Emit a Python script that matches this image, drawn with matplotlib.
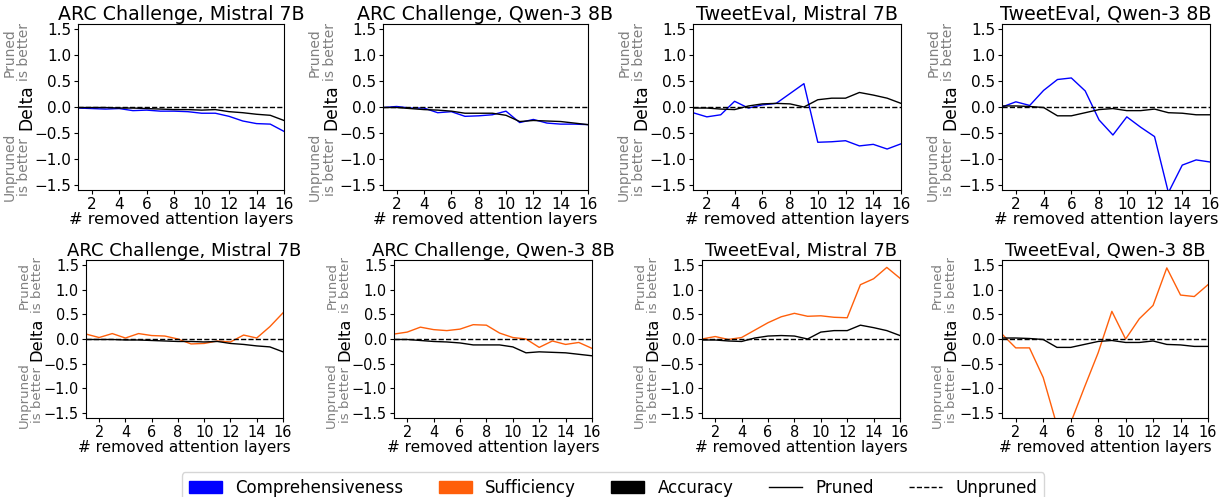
import matplotlib
matplotlib.use("Agg")
import matplotlib.pyplot as plt
from matplotlib.patches import Patch
from matplotlib.lines import Line2D

layers = list(range(1, 17))
xticks = [2, 4, 6, 8, 10, 12, 14, 16]

titles = ["ARC Challenge, Mistral 7B", "ARC Challenge, Qwen-3 8B",
          "TweetEval, Mistral 7B", "TweetEval, Qwen-3 8B"]

# accuracy delta (pruned - unpruned), same for both rows
acc_arc_mistral = [-0.01, -0.01, -0.01, -0.02, -0.02, -0.03, -0.04, -0.05,
                   -0.05, -0.06, -0.05, -0.09, -0.11, -0.14, -0.16, -0.26]
acc_arc_qwen = [-0.01, -0.01, -0.03, -0.05, -0.06, -0.08, -0.12, -0.12,
                -0.12, -0.16, -0.28, -0.26, -0.27, -0.28, -0.31, -0.34]
acc_tweet_mistral = [-0.02, -0.02, -0.04, -0.05, 0.02, 0.06, 0.07, 0.06,
                     0.0, 0.14, 0.17, 0.17, 0.28, 0.23, 0.17, 0.07]
acc_tweet_qwen = [0.02, 0.02, 0.01, -0.01, -0.17, -0.17, -0.11, -0.05,
                  -0.03, -0.07, -0.07, -0.04, -0.11, -0.12, -0.15, -0.15]

# comprehensiveness delta (top row)
comp_arc_mistral = [-0.02, -0.03, -0.04, -0.03, -0.07, -0.06, -0.08, -0.08,
                    -0.09, -0.12, -0.12, -0.18, -0.27, -0.32, -0.33, -0.47]
comp_arc_qwen = [-0.01, 0.01, -0.02, -0.02, -0.11, -0.09, -0.18, -0.17,
                 -0.15, -0.08, -0.30, -0.24, -0.31, -0.33, -0.33, -0.34]
comp_tweet_mistral = [-0.11, -0.19, -0.15, 0.11, -0.02, 0.04, 0.07, 0.26,
                      0.45, -0.68, -0.67, -0.65, -0.75, -0.72, -0.81, -0.71]
comp_tweet_qwen = [0.0, 0.10, 0.03, 0.32, 0.53, 0.56, 0.31, -0.25,
                   -0.54, -0.19, -0.39, -0.57, -1.65, -1.12, -1.02, -1.06]

# sufficiency delta (bottom row)
suff_arc_mistral = [0.10, 0.03, 0.11, 0.02, 0.11, 0.07, 0.06, 0.0,
                    -0.10, -0.09, -0.04, -0.06, 0.08, 0.02, 0.25, 0.53]
suff_arc_qwen = [0.10, 0.14, 0.24, 0.19, 0.17, 0.20, 0.29, 0.28,
                 0.12, 0.03, 0.0, -0.17, -0.04, -0.11, -0.07, -0.19]
suff_tweet_mistral = [0.0, 0.05, -0.01, 0.03, 0.18, 0.33, 0.45, 0.52,
                      0.46, 0.47, 0.44, 0.43, 1.10, 1.22, 1.45, 1.23]
suff_tweet_qwen = [0.10, -0.18, -0.18, -0.78, -1.75, -1.70, -0.98, -0.28,
                   0.56, 0.0, 0.41, 0.68, 1.44, 0.89, 0.86, 1.10]

acc = [acc_arc_mistral, acc_arc_qwen, acc_tweet_mistral, acc_tweet_qwen]
comp = [comp_arc_mistral, comp_arc_qwen, comp_tweet_mistral, comp_tweet_qwen]
suff = [suff_arc_mistral, suff_arc_qwen, suff_tweet_mistral, suff_tweet_qwen]

BLUE = "#0000ff"
ORANGE = "#ff5f0a"

W, H = 1226, 497
fig = plt.figure(figsize=(W / 100, H / 100), dpi=100)

# axes boxes in pixels: (left, top, right, bottom)
boxes_top = [(78, 24, 284, 190), (383, 24, 588, 190),
             (693, 24, 901, 190), (1002, 24, 1210, 190)]
boxes_bot = [(86, 260, 283, 418), (394, 260, 592, 418),
             (702, 260, 900, 418), (1002, 260, 1208, 418)]


def make_ax(box):
    l, t, r, b = box
    return fig.add_axes([l / W, 1 - b / H, (r - l) / W, (b - t) / H])


def style(ax, title, s, gx, gy_top, gy_bot):
    # s: font scale of the row (the lower row is drawn a bit smaller)
    ax.axhline(0, color="black", ls="--", lw=1)
    ax.set_xlim(1, 16)
    ax.set_ylim(-1.6, 1.6)
    ax.set_xticks(xticks)
    ax.set_yticks([-1.5, -1.0, -0.5, 0.0, 0.5, 1.0, 1.5])
    ax.tick_params(labelsize=11 * s, length=3, pad=2)
    ax.set_title(title, fontsize=13.7 * s, pad=2)
    ax.set_xlabel("# removed attention layers", fontsize=11.7 * s, labelpad=0)
    ax.text(-0.25, 0.5, "Delta", rotation=90, fontsize=12.3 * s,
            transform=ax.transAxes, ha="center", va="center")
    ax.text(gx, gy_top, "Pruned\nis better", rotation=90, fontsize=10 * s,
            color="gray", transform=ax.transAxes, ha="center", va="center",
            multialignment="center", linespacing=1.05)
    ax.text(gx, gy_bot, "Unpruned\nis better", rotation=90, fontsize=10 * s,
            color="gray", transform=ax.transAxes, ha="center", va="center",
            multialignment="center", linespacing=1.05)


for i in range(4):
    ax = make_ax(boxes_top[i])
    ax.plot(layers, comp[i], color=BLUE, lw=1)
    ax.plot(layers, acc[i], color="black", lw=1)
    style(ax, titles[i], 1.0, -0.296, 0.83, 0.14)

    ax = make_ax(boxes_bot[i])
    ax.plot(layers, suff[i], color=ORANGE, lw=1)
    ax.plot(layers, acc[i], color="black", lw=1)
    style(ax, titles[i], 0.95, -0.28, 0.84, 0.146)

handles = [Patch(color=BLUE, label="Comprehensiveness"),
           Patch(color=ORANGE, label="Sufficiency"),
           Patch(color="black", label="Accuracy"),
           Line2D([], [], color="black", lw=1, label="Pruned"),
           Line2D([], [], color="black", lw=1, ls="--", label="Unpruned")]
fig.legend(handles=handles, loc="lower center", bbox_to_anchor=(0.5, -0.03),
           ncol=5, fontsize=12, handlelength=2.0, columnspacing=2.1)

fig.savefig("out.png", dpi=100)
